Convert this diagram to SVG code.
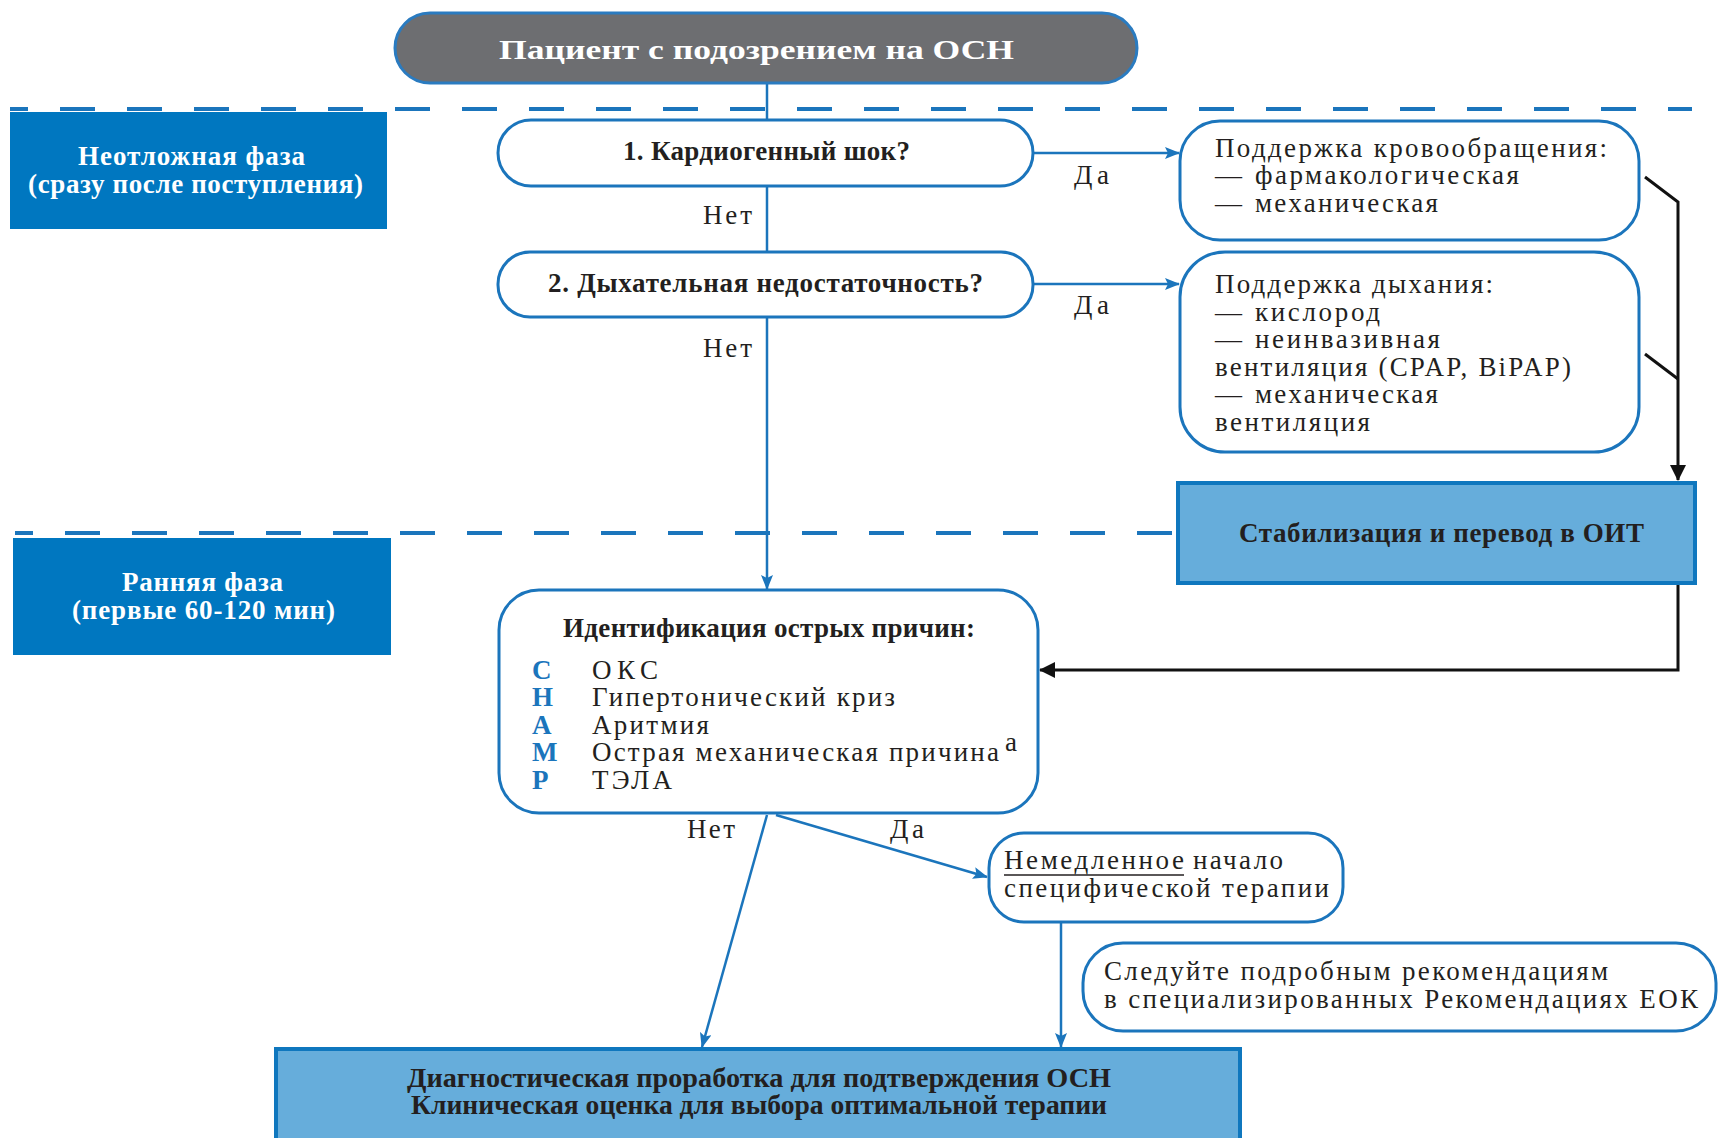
<svg xmlns="http://www.w3.org/2000/svg" width="1719" height="1138" viewBox="0 0 1719 1138">
  <defs>
    <style>
      .t { font-family: "Liberation Serif", "Times New Roman", serif; fill: #231f20; font-size: 27px; }
      .b { font-weight: bold; }
      .w { fill: #ffffff; }
      .blue { fill: #1b75bc; }
      .box { fill: #ffffff; stroke: #1b75bc; stroke-width: 3; }
      .phase { fill: #0077c0; }
      .hl { fill: #66addb; stroke: #0f77be; stroke-width: 4; }
      .conn { fill: none; stroke: #1b75bc; stroke-width: 2.5; }
      .blk { fill: none; stroke: #111111; stroke-width: 3; }
      .dash { fill: none; stroke: #1b75bc; stroke-width: 4; stroke-dasharray: 35 32; stroke-dashoffset: 17; }
    </style>
    <marker id="arrBlue" markerUnits="userSpaceOnUse" markerWidth="15" markerHeight="12" refX="14" refY="6" orient="auto">
      <path d="M0,0 L15,6 L0,12 L3,6 Z" fill="#1b75bc"/>
    </marker>
    <marker id="arrBlack" markerUnits="userSpaceOnUse" markerWidth="16" markerHeight="16" refX="15" refY="8" orient="auto">
      <path d="M0,0 L16,8 L0,16 Z" fill="#111111"/>
    </marker>
  </defs>

  <rect width="1719" height="1138" fill="#ffffff"/>

  <!-- phase separators -->
  <g id="separators">
    <path class="dash" d="M10,109 H1692"/>
    <path class="dash" d="M15,533 H1178"/>
  </g>

  <!-- connectors -->
  <g id="connectors">
    <path class="conn" d="M767,83 V120"/>
    <path class="conn" d="M767,186 V252"/>
    <path class="conn" d="M767,317 V589" marker-end="url(#arrBlue)"/>
    <path class="conn" d="M1033,153 H1179" marker-end="url(#arrBlue)"/>
    <path class="conn" d="M1033,284 H1179" marker-end="url(#arrBlue)"/>
    <path class="blk" d="M1645,177 L1678,202 V480" marker-end="url(#arrBlack)"/>
    <path class="blk" d="M1645,354 L1678,379"/>
    <path class="blk" d="M1678,583 V670 H1040" marker-end="url(#arrBlack)"/>
    <path class="conn" d="M767,815 L702,1047" marker-end="url(#arrBlue)"/>
    <path class="conn" d="M776,815 L987,877" marker-end="url(#arrBlue)"/>
    <path class="conn" d="M1061,922 V1047" marker-end="url(#arrBlue)"/>
    <text class="t" x="1074" y="184" textLength="35">Да</text>
    <text class="t" x="1074" y="314" textLength="35">Да</text>
    <text class="t" x="703" y="224" textLength="49">Нет</text>
    <text class="t" x="703" y="357" textLength="49">Нет</text>
    <text class="t" x="687" y="838" textLength="48">Нет</text>
    <text class="t" x="890" y="838" textLength="34">Да</text>
  </g>

  <g id="start">
    <rect x="395" y="13" width="742" height="70" rx="35" fill="#6d6e71" stroke="#2a7bc0" stroke-width="3"/>
    <text class="t b w" x="499" y="59" font-size="36" textLength="515" lengthAdjust="spacingAndGlyphs">Пациент с подозрением на ОСН</text>
  </g>

  <g id="phase-urgent">
    <rect class="phase" x="10" y="112" width="377" height="117"/>
    <text class="t b w" x="78" y="165" font-size="24" textLength="227">Неотложная фаза</text>
    <text class="t b w" x="28" y="193" font-size="24" textLength="335">(сразу после поступления)</text>
  </g>

  <g id="phase-early">
    <rect class="phase" x="13" y="538" width="378" height="117"/>
    <text class="t b w" x="122" y="591" font-size="24" textLength="161">Ранняя фаза</text>
    <text class="t b w" x="72" y="619" font-size="24" textLength="263">(первые 60-120 мин)</text>
  </g>

  <g id="q-shock">
    <rect class="box" x="498" y="120" width="535" height="66" rx="33"/>
    <text class="t b" x="623" y="160" font-size="25" textLength="287">1. Кардиогенный шок?</text>
  </g>

  <g id="q-resp">
    <rect class="box" x="498" y="252" width="535" height="65" rx="32"/>
    <text class="t b" x="548" y="292" font-size="25" textLength="435">2. Дыхательная недостаточность?</text>
  </g>

  <g id="circ-support">
    <rect class="box" x="1180" y="121" width="459" height="119" rx="40"/>
    <text class="t" x="1215" y="157" textLength="392">Поддержка кровообращения:</text>
    <text class="t" x="1215" y="184">—</text>
    <text class="t" x="1255" y="184" textLength="264">фармакологическая</text>
    <text class="t" x="1215" y="212">—</text>
    <text class="t" x="1255" y="212" textLength="183">механическая</text>
  </g>

  <g id="resp-support">
    <rect class="box" x="1180" y="252" width="459" height="200" rx="45"/>
    <text class="t" x="1215" y="293" textLength="278">Поддержка дыхания:</text>
    <text class="t" x="1215" y="321">—</text>
    <text class="t" x="1255" y="321" textLength="125">кислород</text>
    <text class="t" x="1215" y="348">—</text>
    <text class="t" x="1255" y="348" textLength="185">неинвазивная</text>
    <text class="t" x="1215" y="376" textLength="356">вентиляция (CPAP, BiPAP)</text>
    <text class="t" x="1215" y="403">—</text>
    <text class="t" x="1255" y="403" textLength="183">механическая</text>
    <text class="t" x="1215" y="431" textLength="155">вентиляция</text>
  </g>

  <g id="icu">
    <rect class="hl" x="1178" y="483" width="517" height="100"/>
    <text class="t b" x="1239" y="542" font-size="25" textLength="405">Стабилизация и перевод в ОИТ</text>
  </g>

  <g id="causes">
    <rect class="box" x="499" y="590" width="539" height="223" rx="40"/>
    <text class="t b" x="563" y="637" font-size="25" textLength="412">Идентификация острых причин:</text>
    <text class="t b blue" x="532" y="679">C</text>
    <text class="t" x="592" y="679" textLength="66">ОКС</text>
    <text class="t b blue" x="532" y="706">H</text>
    <text class="t" x="592" y="706" textLength="303">Гипертонический криз</text>
    <text class="t b blue" x="532" y="734">A</text>
    <text class="t" x="592" y="734" textLength="117">Аритмия</text>
    <text class="t b blue" x="532" y="761">M</text>
    <text class="t" x="592" y="761" textLength="407">Острая механическая причина</text>
    <text class="t" x="1005" y="751" font-size="17">a</text>
    <text class="t b blue" x="532" y="789">P</text>
    <text class="t" x="592" y="789" textLength="80">ТЭЛА</text>
  </g>

  <g id="therapy">
    <rect class="box" x="989" y="833" width="354" height="89" rx="35"/>
    <text class="t" x="1004" y="869" textLength="180">Немедленное</text>
    <line x1="1004" y1="875" x2="1184" y2="875" stroke="#231f20" stroke-width="1.5"/>
    <text class="t" x="1193" y="869" textLength="90">начало</text>
    <text class="t" x="1004" y="897" textLength="325">специфической терапии</text>
  </g>

  <g id="guidelines">
    <rect class="box" x="1083" y="943" width="633" height="88" rx="40"/>
    <text class="t" x="1104" y="980" textLength="504">Следуйте подробным рекомендациям</text>
    <text class="t" x="1104" y="1008" textLength="594">в специализированных Рекомендациях ЕОК</text>
  </g>

  <g id="workup">
    <rect class="hl" x="276" y="1049" width="964" height="100"/>
    <text class="t b" x="407" y="1087" font-size="25" textLength="704" lengthAdjust="spacingAndGlyphs">Диагностическая проработка для подтверждения ОСН</text>
    <text class="t b" x="411" y="1114" font-size="25" textLength="696" lengthAdjust="spacingAndGlyphs">Клиническая оценка для выбора оптимальной терапии</text>
  </g>
</svg>
